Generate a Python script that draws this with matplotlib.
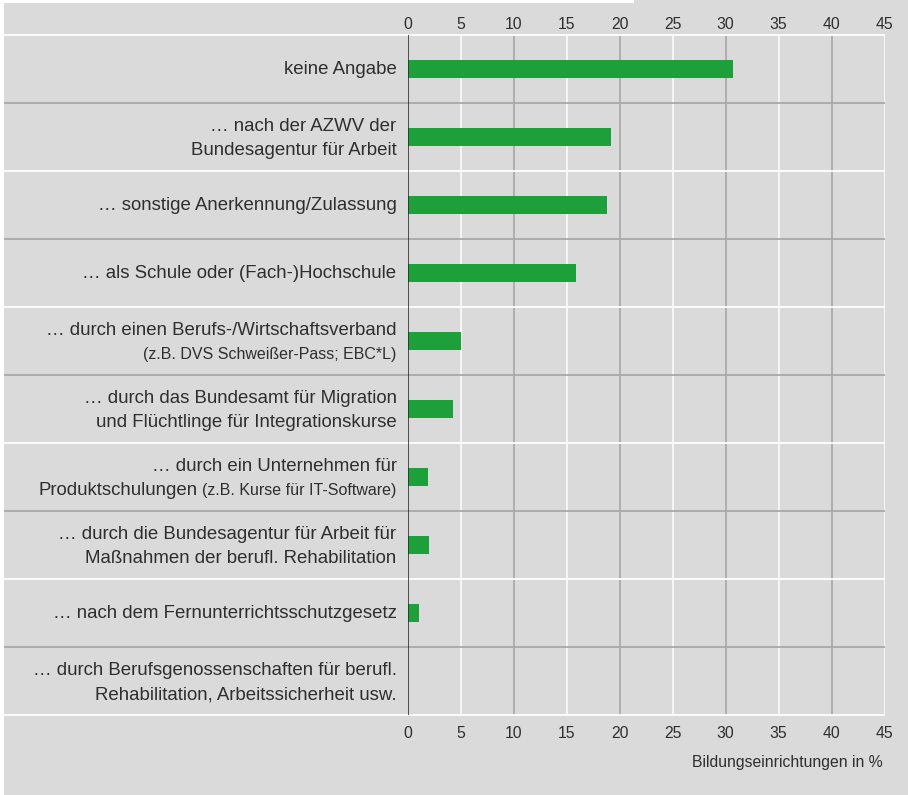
import matplotlib
matplotlib.use("Agg")
import matplotlib.pyplot as plt
from matplotlib.patches import Rectangle
import matplotlib.transforms as mtransforms

plt.rcParams['font.family'] = ['Liberation Sans', 'DejaVu Sans']

# ---- data (top to bottom) ----
label_lines = [
    [("keine Angabe", "")],
    [("… nach der AZWV der", ""), ("Bundesagentur für Arbeit", "")],
    [("… sonstige Anerkennung/Zulassung", "")],
    [("… als Schule oder (Fach-)Hochschule", "")],
    [("… durch einen Berufs-/Wirtschaftsverband", ""), ("", "(z.B. DVS Schweißer-Pass; EBC*L)")],
    [("… durch das Bundesamt für Migration", ""), ("und Flüchtlinge für Integrationskurse", "")],
    [("… durch ein Unternehmen für", ""), ("Produktschulungen", "(z.B. Kurse für IT-Software)")],
    [("… durch die Bundesagentur für Arbeit für", ""), ("Maßnahmen der berufl. Rehabilitation", "")],
    [("… nach dem Fernunterrichtsschutzgesetz", "")],
    [("… durch Berufsgenossenschaften für berufl.", ""), ("Rehabilitation, Arbeitssicherheit usw.", "")],
]
values = [30.7, 19.2, 18.8, 15.9, 5.0, 4.3, 1.9, 2.0, 1.1, 0.0]
x_ticks = [0, 5, 10, 15, 20, 25, 30, 35, 40, 45]
x_label = "Bildungseinrichtungen in %"

# ---- style ----
BG = "#dadada"
GREEN = "#1da039"
TXT = "#2e2e2e"
GRID_GREY = "#a2a2a2"
SEP_GREY = "#a9a9a9"
W, H = 908, 795
ROW_PX = 68.0

fig = plt.figure(figsize=(W / 100, H / 100), dpi=100, facecolor=BG)
fig.patches.append(Rectangle((0, 0), 4 / W, 1, transform=fig.transFigure,
                             facecolor="white", edgecolor="none", zorder=0))
fig.patches.append(Rectangle((0, 1 - 3 / H), 634 / W, 3 / H, transform=fig.transFigure,
                             facecolor="white", edgecolor="none", zorder=0))

ax = fig.add_axes([407.5 / W, 80 / H, 477 / W, 680 / H])
ax.set_facecolor("none")
n = len(values)
ax.set_xlim(0, 45)
ax.set_ylim(n - 0.5, -0.5)
for s in ax.spines.values():
    s.set_visible(False)

ys = list(range(n))

# vertical grid
for xv in x_ticks[1:]:
    col = "white" if (xv // 5) % 2 == 1 else GRID_GREY
    ax.vlines(xv, -0.5, n - 0.5, color=col, lw=1.1, zorder=1)

# horizontal separators extending to the left edge
sep_tr = mtransforms.blended_transform_factory(fig.transFigure, ax.transData)
for k in range(n + 1):
    col = "white" if k % 2 == 0 else SEP_GREY
    ax.plot([4 / W, 884.5 / W], [k - 0.5, k - 0.5], transform=sep_tr,
            color=col, lw=1.3, zorder=1.5, clip_on=False, solid_capstyle="butt")

# bars
ax.barh(ys, values, height=18.7 / ROW_PX, color=GREEN, zorder=2)

# zero line
ax.vlines(0, -0.5, n - 0.5, color="#262626", lw=1.1, zorder=3)

# ticks
ax.set_yticks([])
ax.set_xticks(x_ticks)
ax.tick_params(axis="x", length=0, pad=8.0, labelsize=11.3, labelcolor=TXT)
top = ax.secondary_xaxis("top")
top.set_xticks(x_ticks)
top.tick_params(axis="x", length=0, pad=2.5, labelsize=11.3, labelcolor=TXT)
for s in top.spines.values():
    s.set_visible(False)

# category labels
MAIN_FS = 13.4
SMALL_FS = 11.5
x_lab = -11.0 / 10.6
for i, lines in enumerate(label_lines):
    if len(lines) == 1:
        offsets = [5.0]
    else:
        offsets = [-6.0, 18.0]
    for (main, small), off in zip(lines, offsets):
        y = i + off / ROW_PX
        if small:
            st = ax.text(x_lab, y, small, ha="right", va="baseline",
                         fontsize=SMALL_FS, color=TXT, clip_on=False)
            if main:
                ax.annotate(main, xy=(0, y), xycoords=(st, "data"),
                            xytext=(-3.5, 0), textcoords="offset points",
                            ha="right", va="baseline", fontsize=MAIN_FS,
                            color=TXT, annotation_clip=False)
        else:
            ax.text(x_lab, y, main, ha="right", va="baseline",
                    fontsize=MAIN_FS, color=TXT, clip_on=False)

fig.text(883 / W, (H - 767.5) / H, x_label, ha="right", va="baseline",
         fontsize=11.3, color=TXT)

fig.savefig("out.png", dpi=100, facecolor=BG)
